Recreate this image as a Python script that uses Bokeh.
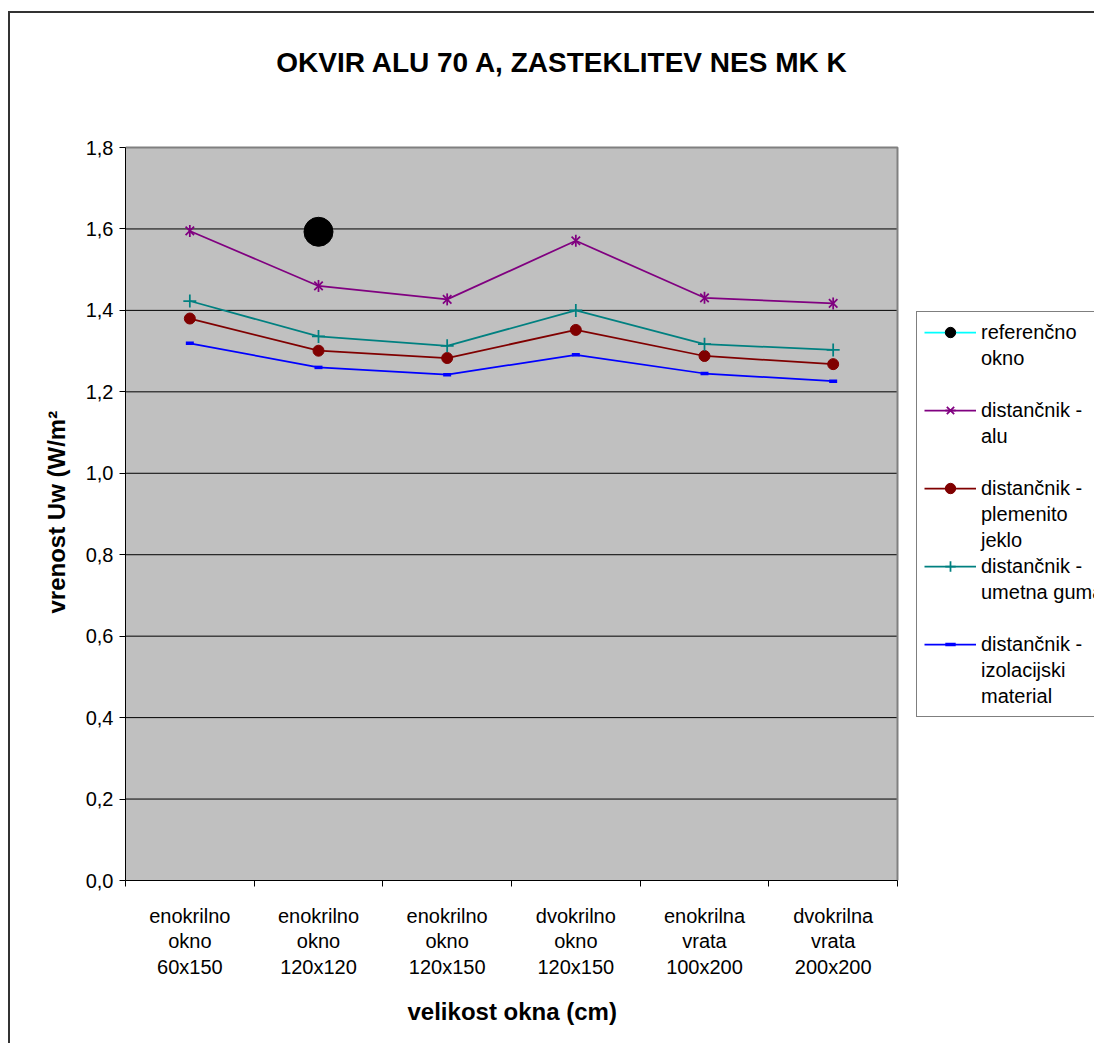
from bokeh.plotting import figure
from bokeh.models import (Range1d, FixedTicker, CustomJSTickFormatter, Legend, LegendItem,
                          InlineStyleSheet, BoxAnnotation, Label, Title)
from bokeh.embed import file_html
from bokeh.resources import INLINE
import math

# ---- data ----
categories = ["enokrilno\nokno\n60x150", "enokrilno\nokno\n120x120", "enokrilno\nokno\n120x150",
              "dvokrilno\nokno\n120x150", "enokrilna\nvrata\n100x200", "dvokrilna\nvrata\n200x200"]
referencno = [float("nan"), 1.593, float("nan"), float("nan"), float("nan"), float("nan")]
alu = [1.595, 1.460, 1.427, 1.571, 1.431, 1.417]
jeklo = [1.380, 1.301, 1.283, 1.352, 1.288, 1.268]
guma = [1.423, 1.336, 1.313, 1.400, 1.317, 1.303]
izolacija = [1.319, 1.260, 1.242, 1.291, 1.245, 1.226]
y_ticks = [0.0, 0.2, 0.4, 0.6, 0.8, 1.0, 1.2, 1.4, 1.6, 1.8]

FONT = "Liberation Sans"
N = len(categories)
YMAX = y_ticks[-1]
xs = [i + 0.5 for i in range(N)]

# layout geometry (pixels): plotting area 125..897 x 147..880 inside a 1094x1043 canvas
W, H = 1094, 1043
LEFT, RIGHT_PLOT, TOP_PLOT, BOTTOM = 125, 897, 147, 880
x_end = N * (W - LEFT) / (RIGHT_PLOT - LEFT)
y_end = YMAX * BOTTOM / (BOTTOM - TOP_PLOT)

p = figure(width=W, height=H, output_backend="svg", toolbar_location=None,
           x_range=Range1d(0, x_end), y_range=Range1d(0, y_end),
           min_border_left=LEFT, min_border_right=0, min_border_top=0, min_border_bottom=H - BOTTOM)

p.background_fill_color = "white"
p.border_fill_color = "white"
p.outline_line_color = None
p.xgrid.grid_line_color = None
p.ygrid.grid_line_color = None

# plot-area background
p.add_layout(BoxAnnotation(left=0, right=N, bottom=0, top=YMAX, fill_color="#C0C0C0",
                           fill_alpha=1.0, line_color=None, level="underlay"))

# horizontal grid lines
p.segment(x0=[0] * len(y_ticks), x1=[N] * len(y_ticks), y0=y_ticks, y1=y_ticks,
          line_color="black", line_width=1)
# grey top/right border of the plotting area
p.line([0, N, N], [YMAX, YMAX, 0], line_color="#808080", line_width=2)

# chart title
p.add_layout(Label(x=(562 - LEFT) * N / (RIGHT_PLOT - LEFT), y=(BOTTOM - 62) * YMAX / (BOTTOM - TOP_PLOT),
                   text="OKVIR ALU 70 A, ZASTEKLITEV NES MK K", text_font=FONT,
                   text_font_size="28px", text_font_style="bold", text_color="black",
                   text_align="center", text_baseline="middle"))

# x axis
xa = p.xaxis[0]
xa.bounds = (0, N)
xa.ticker = FixedTicker(ticks=xs, minor_ticks=list(range(N + 1)))
xa.formatter = CustomJSTickFormatter(args=dict(labels=categories),
                                     code="return labels[Math.round(tick - 0.5)];")
xa.major_tick_line_color = None
xa.major_tick_out = 0
xa.major_tick_in = 0
xa.minor_tick_line_color = "black"
xa.minor_tick_out = 6
xa.minor_tick_in = 0
xa.axis_line_color = "black"
xa.major_label_text_font = FONT
xa.major_label_text_font_size = "20px"
xa.major_label_text_color = "black"
xa.major_label_text_line_height = 1.17
xa.major_label_standoff = 18

# y axis
ya = p.yaxis[0]
ya.bounds = (0, YMAX)
ya.ticker = FixedTicker(ticks=y_ticks)
ya.formatter = CustomJSTickFormatter(code="return tick.toFixed(1).replace('.', ',');")
ya.major_tick_out = 6
ya.major_tick_in = 0
ya.minor_tick_line_color = None
ya.axis_line_color = "black"
ya.major_label_text_font = FONT
ya.major_label_text_font_size = "20px"
ya.major_label_text_color = "black"
ya.major_label_standoff = 6

# axis titles (placed as side-panel titles so they centre on the plotting area)
x_title = Title(text="velikost okna (cm)", text_font=FONT, text_font_size="24px",
                text_font_style="bold", text_color="black", align="left", offset=282, standoff=30)
p.add_layout(x_title, "below")
y_title = Title(text="vrenost Uw (W/m\u00b2", text_font=FONT, text_font_size="24px",
                text_font_style="bold", text_color="black", align="left", offset=267, standoff=26)
p.add_layout(y_title, "left")

# series
ref_line = p.line(xs, referencno, line_color="#00FFFF", line_width=1.75)
ref_pt = p.scatter(xs, referencno, marker="circle", size=29, fill_color="black", line_color="black")

alu_line = p.line(xs, alu, line_color="#800080", line_width=1.75)
alu_x = p.scatter(xs, alu, marker="x", size=12, line_color="#800080", line_width=1.75)
alu_v = p.scatter(xs, alu, marker="dash", size=12, angle=math.pi / 2, line_color="#800080", line_width=1.75)

jeklo_line = p.line(xs, jeklo, line_color="#800000", line_width=1.75)
jeklo_pt = p.scatter(xs, jeklo, marker="circle", size=11, fill_color="#800000", line_color="#800000")

guma_line = p.line(xs, guma, line_color="#008080", line_width=1.75)
guma_pt = p.scatter(xs, guma, marker="cross", size=13, line_color="#008080", line_width=1.75)

izol_line = p.line(xs, izolacija, line_color="#0000FF", line_width=1.75)
izol_pt = p.scatter(xs, izolacija, marker="dash", size=8, line_color="#0000FF", line_width=3.5)

dummy = p.line([], [], line_color="white", line_alpha=0)

items = [
    LegendItem(label="referen\u010dno", renderers=[ref_line, ref_pt]),
    LegendItem(label="okno", renderers=[dummy]),
    LegendItem(label=" ", renderers=[dummy]),
    LegendItem(label="distan\u010dnik -", renderers=[alu_line, alu_x, alu_v]),
    LegendItem(label="alu", renderers=[dummy]),
    LegendItem(label=" ", renderers=[dummy]),
    LegendItem(label="distan\u010dnik -", renderers=[jeklo_line, jeklo_pt]),
    LegendItem(label="plemenito", renderers=[dummy]),
    LegendItem(label="jeklo", renderers=[dummy]),
    LegendItem(label="distan\u010dnik -", renderers=[guma_line, guma_pt]),
    LegendItem(label="umetna guma", renderers=[dummy]),
    LegendItem(label=" ", renderers=[dummy]),
    LegendItem(label="distan\u010dnik -", renderers=[izol_line, izol_pt]),
    LegendItem(label="izolacijski", renderers=[dummy]),
    LegendItem(label="material", renderers=[dummy]),
]
legend = Legend(items=items, location=(916 - LEFT, H - 717 - (H - BOTTOM)), orientation="vertical",
                padding=7, spacing=0, margin=0, label_height=26, glyph_height=26, glyph_width=52,
                label_standoff=5, label_text_font=FONT, label_text_font_size="20px",
                label_text_color="black",
                border_line_color="black", border_line_width=1, background_fill_color="white",
                background_fill_alpha=1.0)
p.add_layout(legend, "center")

p.stylesheets = [InlineStyleSheet(css=""":host::after { content: ''; position: absolute; left: 8px; top: 11px;
right: 0; bottom: 0; border-left: 2px solid #333; border-top: 2px solid #333; pointer-events: none; z-index: 100; }""")]

open("out.html", "w").write(file_html(p, INLINE))
